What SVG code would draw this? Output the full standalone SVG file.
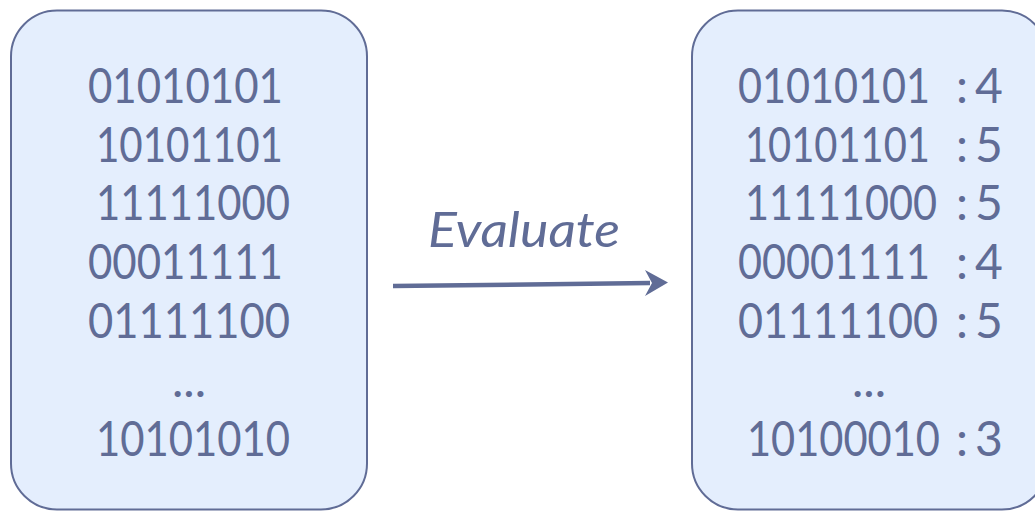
<svg xmlns="http://www.w3.org/2000/svg" width="1035" height="511" viewBox="0 0 1035 511">
<style>
.box{fill:#e4eefd;stroke:#606c96;stroke-width:2}
.t{font-family:Lato,"Open Sans","Liberation Sans",sans-serif;font-size:48px;fill:#606c96}
.d{font-size:41px}
.i{font-style:italic}
</style>
<rect width="1035" height="511" fill="#ffffff"/>
<g id="input-box">
<rect class="box" x="11" y="10.5" width="356" height="499" rx="46" ry="46"/>
<text class="t" x="88" y="103" textLength="195" lengthAdjust="spacingAndGlyphs">01010101</text>
<text class="t" x="96" y="162" textLength="187" lengthAdjust="spacingAndGlyphs">10101101</text>
<text class="t" x="96" y="220" textLength="194" lengthAdjust="spacingAndGlyphs">11111000</text>
<text class="t" x="88" y="279" textLength="195" lengthAdjust="spacingAndGlyphs">00011111</text>
<text class="t" x="88" y="338" textLength="202" lengthAdjust="spacingAndGlyphs">01111100</text>
<text class="t" x="189" y="397" text-anchor="middle">...</text>
<text class="t" x="96" y="456" textLength="194" lengthAdjust="spacingAndGlyphs">10101010</text>
</g>
<g id="output-box">
<rect class="box" x="692" y="10.5" width="356" height="499" rx="46" ry="46"/>
<text class="t d" transform="translate(738,103) scale(1,1.19)" x="0" y="0" textLength="192" lengthAdjust="spacingAndGlyphs">01010101</text>
<text class="t" x="956" y="103">:</text><text class="t" x="975" y="103">4</text>
<text class="t d" transform="translate(745,162) scale(1,1.19)" x="0" y="0" textLength="185" lengthAdjust="spacingAndGlyphs">10101101</text>
<text class="t" x="956" y="162">:</text><text class="t" x="975" y="162">5</text>
<text class="t d" transform="translate(745,220) scale(1,1.19)" x="0" y="0" textLength="192" lengthAdjust="spacingAndGlyphs">11111000</text>
<text class="t" x="956" y="220">:</text><text class="t" x="975" y="220">5</text>
<text class="t d" transform="translate(738,279) scale(1,1.19)" x="0" y="0" textLength="192" lengthAdjust="spacingAndGlyphs">00001111</text>
<text class="t" x="956" y="279">:</text><text class="t" x="975" y="279">4</text>
<text class="t d" transform="translate(738,338) scale(1,1.19)" x="0" y="0" textLength="200" lengthAdjust="spacingAndGlyphs">01111100</text>
<text class="t" x="956" y="338">:</text><text class="t" x="975" y="338">5</text>
<text class="t" x="869" y="397" text-anchor="middle">...</text>
<text class="t d" transform="translate(747,456) scale(1,1.19)" x="0" y="0" textLength="193" lengthAdjust="spacingAndGlyphs">10100010</text>
<text class="t" x="956" y="456">:</text><text class="t" x="975" y="456">3</text>
</g>
<g id="connectors">
<line x1="393" y1="286" x2="650" y2="283" stroke="#606c96" stroke-width="4.5"/>
<path d="M668,282.5 L645,270 L652,283 L645,296 Z" fill="#606c96"/>
<text class="t i" x="428" y="247" textLength="192" lengthAdjust="spacingAndGlyphs">Evaluate</text>
</g>
</svg>
